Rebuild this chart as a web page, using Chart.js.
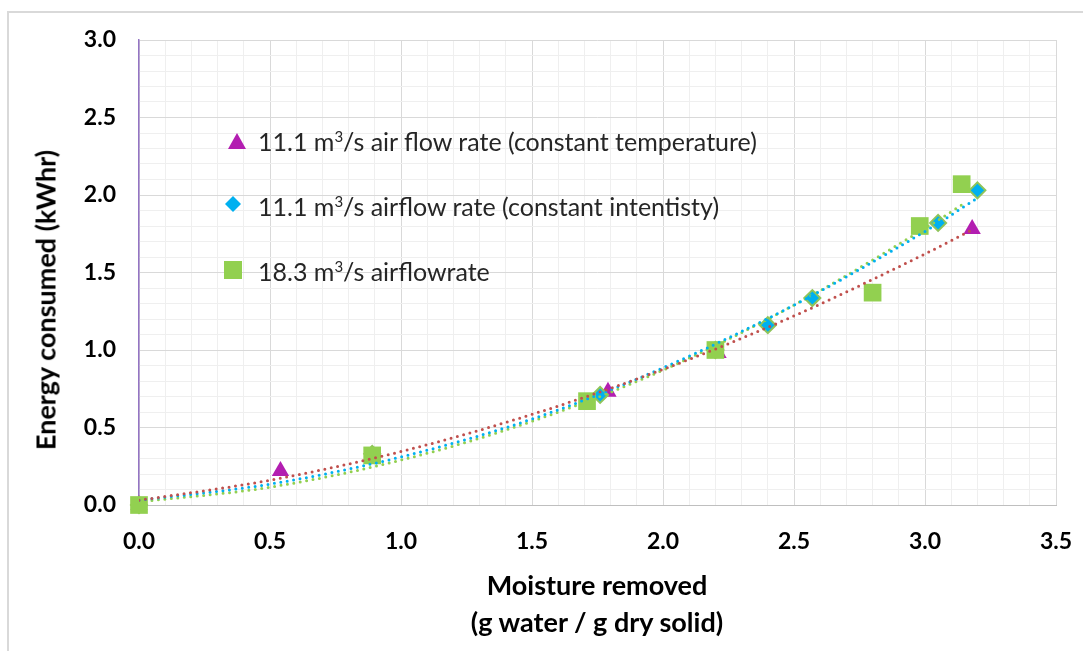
<!DOCTYPE html>
<html>
<head>
<meta charset="utf-8">
<script src="https://cdn.jsdelivr.net/npm/chart.js@4.4.1/dist/chart.umd.min.js"></script>
<style>
    html, body { margin: 0; padding: 0; background: #ffffff; }
    #wrap { position: relative; width: 1083px; height: 651px; overflow: hidden; font-family: Lato, "Open Sans", sans-serif; }
    #frame { position: absolute; left: 7px; top: 11px; width: 2000px; height: 2000px; border-left: 2px solid #d9d9d9; border-top: 2px solid #d9d9d9; }
    #chart { position: absolute; left: 0; top: 0; }
    .legend-row { position: absolute; left: 258px; transform: translateY(-50%); font-size: 25px; color: #262626; white-space: nowrap; line-height: 1; }
    .legend-row sup { font-size: 15px; vertical-align: 9px; line-height: 0; }
    .legend-mark { position: absolute; }
    .ytitle { position: absolute; left: 45px; top: 300px; transform: translate(-50%, -50%) rotate(-90deg); font-weight: bold; font-size: 27px; color: #000; white-space: nowrap; }
    .xtitle { position: absolute; left: 597px; transform: translate(-50%, -50%); font-weight: bold; font-size: 27px; color: #000; white-space: nowrap; }
</style>
</head>
<body>
<div id="wrap">
    <div id="frame"></div>
    <canvas id="chart" width="1083" height="651"></canvas>

    <!-- legend placed inside the plot area, like the text box in the original -->
    <svg class="legend-mark" style="left:228px; top:133px;" width="18" height="16"><polygon points="9,0 18,16 0,16" fill="#B31EB1"/></svg>
    <div class="legend-row" style="top:141px;">11.1 m<sup>3</sup>/s air flow rate (constant temperature)</div>
    <svg class="legend-mark" style="left:225px; top:196px;" width="16" height="16"><polygon points="8,0 16,8 8,16 0,8" fill="#00B0F0"/></svg>
    <div class="legend-row" style="top:206px;">11.1 m<sup>3</sup>/s airflow rate (constant intentisty)</div>
    <svg class="legend-mark" style="left:224px; top:261px;" width="18" height="18"><rect x="0" y="0" width="18" height="18" fill="#92D050"/></svg>
    <div class="legend-row" style="top:271px;">18.3 m<sup>3</sup>/s airflowrate</div>

    <div class="ytitle">Energy consumed (kWhr)</div>
    <div class="xtitle" style="top:584px;">Moisture removed</div>
    <div class="xtitle" style="top:621px;">(g water / g dry solid)</div>
</div>

<script>
// --- datos ---
// 11.1 m3/s (temperatura constante) - triangulos
const triX = [0, 0.54, 1.79, 2.21, 3.18];
const triY = [0, 0.22, 0.73, 0.98, 1.78];

// 11.1 m3/s (intensidad constante) - rombos
const diaX = [0, 0.89, 1.76, 2.20, 2.40, 2.57, 3.05, 3.20];
const diaY = [0, 0.33, 0.71, 1.00, 1.16, 1.335, 1.82, 2.03];

// 18.3 m3/s - cuadrados
const sqX = [0, 0.89, 1.71, 2.20, 2.80, 2.98, 3.14];
const sqY = [0, 0.32, 0.67, 1.00, 1.37, 1.80, 2.07];

// lineas de tendencia (punteadas)
const redTrendX = [0, 0.5, 1.0, 1.5, 2.0, 2.5, 3.0, 3.18];
const redTrendY = [0.03, 0.16, 0.345, 0.585, 0.875, 1.22, 1.62, 1.775];
const cyanTrendX = [0, 0.5, 1.0, 1.5, 2.0, 2.5, 3.0, 3.2];
const cyanTrendY = [0.03, 0.135, 0.31, 0.555, 0.885, 1.29, 1.765, 1.98];
const greenTrendX = [0, 0.5, 1.0, 1.5, 2.0, 2.5, 3.0, 3.14];
const greenTrendY = [0.02, 0.115, 0.29, 0.54, 0.87, 1.29, 1.785, 1.935];

// ejes
const xMin = 0, xMax = 3.5, yMin = 0, yMax = 3.0;
const minorStep = 0.1;

const toXY = (xs, ys) => xs.map((x, i) => ({ x: x, y: ys[i] }));
const isMajor = v => Math.abs(v * 2 - Math.round(v * 2)) < 1e-6;

const tickFont = { family: 'Lato, "Open Sans", sans-serif', size: 23, weight: 'bold' };

function trend(xs, ys, color) {
    return {
        data: toXY(xs, ys),
        showLine: true,
        borderColor: color,
        borderWidth: 3,
        borderDash: [0, 6.5],
        borderCapStyle: 'round',
        cubicInterpolationMode: 'monotone',
        pointRadius: 0,
        fill: false,
        order: 0
    };
}

new Chart(document.getElementById('chart'), {
    type: 'scatter',
    data: {
        datasets: [
            trend(redTrendX, redTrendY, '#C0504D'),
            trend(cyanTrendX, cyanTrendY, '#00B0F0'),
            trend(greenTrendX, greenTrendY, '#92D050'),
            {
                data: toXY(sqX, sqY),
                pointStyle: 'rect',
                pointRadius: 12.5,
                backgroundColor: '#92D050',
                borderColor: '#92D050',
                borderWidth: 0,
                clip: false,
                order: 1
            },
            {
                data: toXY(diaX, diaY),
                pointStyle: 'rectRot',
                pointRadius: 8,
                backgroundColor: '#00B0F0',
                borderColor: '#8FC45A',
                borderWidth: 2,
                clip: false,
                order: 2
            },
            {
                data: toXY(triX, triY),
                pointStyle: 'triangle',
                pointRadius: 10,
                backgroundColor: '#B31EB1',
                borderColor: '#B31EB1',
                borderWidth: 0,
                clip: false,
                order: 3
            }
        ]
    },
    options: {
        responsive: false,
        animation: false,
        layout: { padding: { top: 40, right: 27, left: 0, bottom: 0 } },
        plugins: {
            legend: { display: false },
            tooltip: { enabled: false }
        },
        scales: {
            x: {
                type: 'linear',
                min: xMin,
                max: xMax,
                afterFit: function (scale) {
                    scale.height = 146;
                    scale.paddingLeft = 0;
                    scale.paddingRight = 0;
                },
                ticks: {
                    stepSize: minorStep,
                    autoSkip: false,
                    maxRotation: 0,
                    padding: 23,
                    color: '#000000',
                    font: tickFont,
                    callback: v => isMajor(v) ? v.toFixed(1) : ''
                },
                grid: {
                    drawTicks: false,
                    color: ctx => isMajor(ctx.tick.value) ? '#d9d9d9' : '#efefef'
                },
                border: { color: '#bfbfbf', width: 1 }
            },
            y: {
                type: 'linear',
                min: yMin,
                max: yMax,
                afterFit: function (scale) {
                    scale.width = 139;
                    scale.paddingTop = 0;
                    scale.paddingBottom = 0;
                },
                ticks: {
                    stepSize: minorStep,
                    autoSkip: false,
                    padding: 23,
                    color: '#000000',
                    font: tickFont,
                    callback: v => isMajor(v) ? v.toFixed(1) : ''
                },
                grid: {
                    drawTicks: false,
                    color: ctx => isMajor(ctx.tick.value) ? '#d9d9d9' : '#efefef'
                },
                border: { color: '#9474C4', width: 1.5 }
            }
        }
    }
});
</script>
</body>
</html>
